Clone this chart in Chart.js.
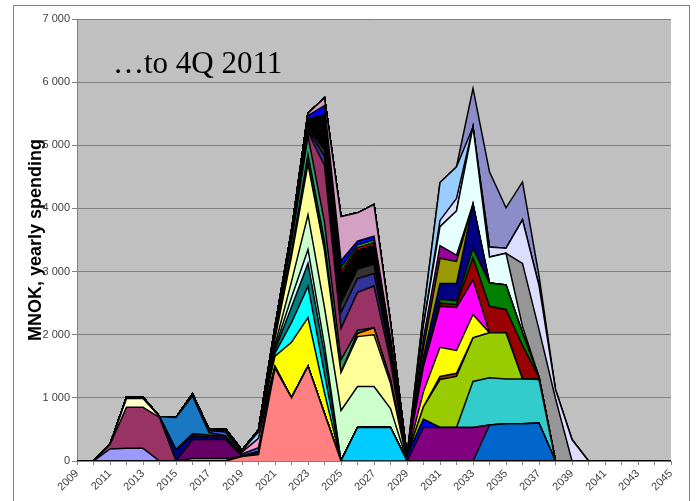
<!DOCTYPE html>
<html>
<head>
<meta charset="utf-8">
<script src="https://cdn.jsdelivr.net/npm/chart.js@4/dist/chart.umd.min.js"></script>
<style>
html, body { margin: 0; padding: 0; background: #fff; overflow: hidden; }
canvas { display: block; }
</style>
</head>
<body>
<canvas id="c" width="696" height="501"></canvas>
<script>
// Yearly spending (MNOK) per project, stacked. Each array lists the values
// from the project's first year of spending; every other year is zero.
const years = [2009, 2010, 2011, 2012, 2013, 2014, 2015, 2016, 2017, 2018,
               2019, 2020, 2021, 2022, 2023, 2024, 2025, 2026, 2027, 2028,
               2029, 2030, 2031, 2032, 2033, 2034, 2035, 2036, 2037, 2038,
               2039, 2040, 2041, 2042, 2043, 2044, 2045];

const yTicks = [0, 1000, 2000, 3000, 4000, 5000, 6000, 7000];
const yTitle = 'MNOK, yearly spending';
const caption = '\u2026to 4Q 2011';

// early projects, 2011-2021
const lavenderA = [190, 200, 200, 0];          // from 2011
const plumA     = [70, 650, 650, 690];         // from 2011
const creamA    = [140, 140, 10];              // from 2012
const edgeA     = [20, 20, 5];                 // from 2012
const greyBlueA = [40, 40, 40];                // from 2016
const purpleA   = [300, 300, 300];             // from 2016
const navyA     = [180, 60, 40, 40, 10, 50];   // from 2015
const crimsonA  = [30, 30, 20];                // from 2016
const steelA    = [510, 600, 40];              // from 2015
const royalA    = [30, 30, 60, 30, 60];        // from 2016
const pinkA     = [30, 30, 150, 20];           // from 2018
const skyA      = [20, 100, 10];               // from 2019
const blackA    = [20, 20, 10, 30];            // from 2017

// projects peaking 2023-2027
const salmonB     = [70, 100, 1470, 1000, 1500, 750];             // from 2019
const skyBlueB    = [530, 530, 530];                              // from 2026
const yellowB     = [160, 880, 770, 330];                         // from 2021
const cyanB       = [50, 310, 500, 300];                          // from 2021
const tealB       = [50, 250, 360, 300];                          // from 2021
const iceB        = [30, 150, 220, 150];                          // from 2021
const mintB       = [50, 250, 550, 600, 800, 650, 650, 300];      // from 2021
const paleYellowB = [100, 400, 800, 900, 600, 790, 820, 400];     // from 2021
const orangeB     = [50, 110, 50];                                // from 2026
const darkTealB   = [30, 80, 150, 150];                           // from 2021
const seaGreenB   = [60, 150, 300, 300, 200, 50];                 // from 2021
const berryB      = [20, 30, 60, 900, 500, 600, 660, 300];        // from 2021
const indigoB     = [20, 30, 150, 250, 220, 200, 100];            // from 2022
const charcoalB   = [20, 30, 100, 150, 150, 150, 80];             // from 2022
const blackB      = [60, 80, 150, 550, 450, 300, 300, 150];       // from 2021
const redB        = [60, 40, 40];                                 // from 2025
const limeB       = [60, 40, 40];                                 // from 2025
const blueB       = [50, 150, 100, 60, 60, 30];                   // from 2023
const mauveB      = [20, 30, 40, 120, 700, 450, 500, 250];        // from 2021

// projects peaking 2031-2037
const steelC     = [570, 590, 590, 600];                          // from 2034
const purpleC    = [530, 530, 530, 530];                          // from 2030
const blueC      = [80, 130];                                     // from 2029
const turquoiseC = [730, 750, 710, 710, 690];                     // from 2033
const limeC      = [200, 760, 810, 690, 710, 730];                // from 2030
const brownC     = [50, 50];                                      // from 2031
const yellowC    = [240, 460, 360, 370];                          // from 2030
const magentaC   = [400, 650, 680, 550];                          // from 2030
const darkRedC   = [50, 50, 350, 420, 370, 530, 30];              // from 2031
const greenC     = [60, 60, 150, 370, 390, 200, 10];              // from 2031
const navyC      = [150, 250, 270, 700];                          // from 2030
const oliveC     = [150, 400, 350];                               // from 2030
const violetC    = [150, 200, 100];                               // from 2030
const whiteC     = [200, 300, 700, 1220, 410, 500, 100];          // from 2030
const greyC      = [1000, 750, 990];                              // from 2036
const lilacC     = [100, 200, 0, 160, 80, 690, 700, 140, 340];    // from 2031
const lightBlueC = [200, 600, 500];                               // from 2030
const slateC     = [610, 1190, 640, 600, 150];                    // from 2033

// places a project's values on the full year axis
function onYears(first, values) {
  return years.map(y => {
    const i = y - first;
    return i >= 0 && i < values.length ? values[i] : 0;
  });
}

// bottom-to-top stacking order
const layers = [
  ['#FF8080', 2019, salmonB],
  ['#00CCFF', 2026, skyBlueB],
  ['#9999FF', 2011, lavenderA],
  ['#993366', 2011, plumA],
  ['#FFFFCC', 2012, creamA],
  ['#000000', 2012, edgeA],
  ['#A9B9D6', 2016, greyBlueA],
  ['#660066', 2016, purpleA],
  ['#000080', 2015, navyA],
  ['#CC0033', 2016, crimsonA],
  ['#1A78C2', 2015, steelA],
  ['#3366FF', 2016, royalA],
  ['#FF99CC', 2018, pinkA],
  ['#99CCFF', 2019, skyA],
  ['#000000', 2017, blackA],
  ['#FFFF00', 2021, yellowB],
  ['#00FFFF', 2021, cyanB],
  ['#008080', 2021, tealB],
  ['#CCFFFF', 2021, iceB],
  ['#CCFFCC', 2021, mintB],
  ['#FFFF99', 2021, paleYellowB],
  ['#FF9900', 2026, orangeB],
  ['#006666', 2021, darkTealB],
  ['#339966', 2021, seaGreenB],
  ['#993366', 2021, berryB],
  ['#333399', 2022, indigoB],
  ['#333333', 2022, charcoalB],
  ['#000000', 2021, blackB],
  ['#FF0000', 2025, redB],
  ['#00FF00', 2025, limeB],
  ['#0000FF', 2023, blueB],
  ['#D4A0C4', 2021, mauveB],
  ['#0066CC', 2034, steelC],
  ['#800080', 2030, purpleC],
  ['#0000FF', 2029, blueC],
  ['#33CCCC', 2033, turquoiseC],
  ['#99CC00', 2030, limeC],
  ['#993300', 2031, brownC],
  ['#FFFF00', 2030, yellowC],
  ['#FF00FF', 2030, magentaC],
  ['#990000', 2031, darkRedC],
  ['#008000', 2031, greenC],
  ['#000080', 2030, navyC],
  ['#999900', 2030, oliveC],
  ['#990099', 2030, violetC],
  ['#E6FFFF', 2030, whiteC],
  ['#969696', 2036, greyC],
  ['#DDDDFF', 2031, lilacC],
  ['#99CCFF', 2030, lightBlueC],
  ['#8C8CC8', 2033, slateC]
];

const datasets = layers.map(([color, first, values], i) => ({
  data: onYears(first, values),
  backgroundColor: color,
  borderColor: '#000',
  borderWidth: 1.5,
  fill: i === 0 ? 'origin' : '-1',
  pointRadius: 0,
  tension: 0
}));

const frame = {
  id: 'frame',
  beforeDraw(chart) {
    const { ctx, chartArea: a } = chart;
    ctx.save();
    ctx.fillStyle = '#fff';
    ctx.fillRect(0, 0, chart.width, chart.height);
    ctx.strokeStyle = '#808080';
    ctx.lineWidth = 1;
    ctx.strokeRect(13.5, 5.5, 676, 520);
    ctx.fillStyle = '#C0C0C0';
    ctx.fillRect(a.left, a.top, a.right - a.left, a.bottom - a.top);
    ctx.restore();
  },
  afterDraw(chart) {
    const ctx = chart.ctx;
    ctx.save();
    ctx.font = '31px "Liberation Serif", "Times New Roman", serif';
    ctx.fillStyle = '#000';
    ctx.textBaseline = 'alphabetic';
    ctx.textAlign = 'left';
    ctx.fillText(caption, 113, 73);
    ctx.restore();
  }
};

const tickFont = { family: '"Liberation Sans", Arial, sans-serif', size: 11 };

new Chart(document.getElementById('c'), {
  type: 'line',
  data: { labels: years.map(String), datasets },
  plugins: [frame],
  options: {
    responsive: false,
    devicePixelRatio: 1,
    animation: false,
    events: [],
    layout: { padding: { left: 0, right: 25, top: 19, bottom: 0 } },
    plugins: { legend: { display: false }, tooltip: { enabled: false } },
    scales: {
      x: {
        offset: false,
        grid: { drawOnChartArea: false, drawTicks: true, tickLength: 4, color: '#808080' },
        border: { color: '#808080', width: 1 },
        ticks: {
          autoSkip: false,
          minRotation: 45,
          maxRotation: 45,
          padding: 2,
          font: tickFont,
          color: '#404040',
          callback: (v, i) => (years[i] % 2 === 1 ? String(years[i]) : '')
        },
        afterFit: s => { s.height = 40; }
      },
      y: {
        stacked: true,
        min: yTicks[0],
        max: yTicks[yTicks.length - 1],
        afterBuildTicks: s => { s.ticks = yTicks.map(v => ({ value: v })); },
        grid: { color: '#808080', tickLength: 5 },
        border: { color: '#808080', width: 1 },
        ticks: {
          padding: 2,
          font: tickFont,
          color: '#404040',
          callback: v => (v === 0 ? '0' : (v / 1000) + ' 000')
        },
        title: {
          display: true,
          text: yTitle,
          color: '#000',
          font: { family: '"Liberation Sans", Arial, sans-serif', size: 18, weight: 'bold' },
          padding: { top: 25, bottom: 0 }
        },
        afterFit: s => { s.width = 77; }
      }
    }
  }
});
</script>
</body>
</html>
